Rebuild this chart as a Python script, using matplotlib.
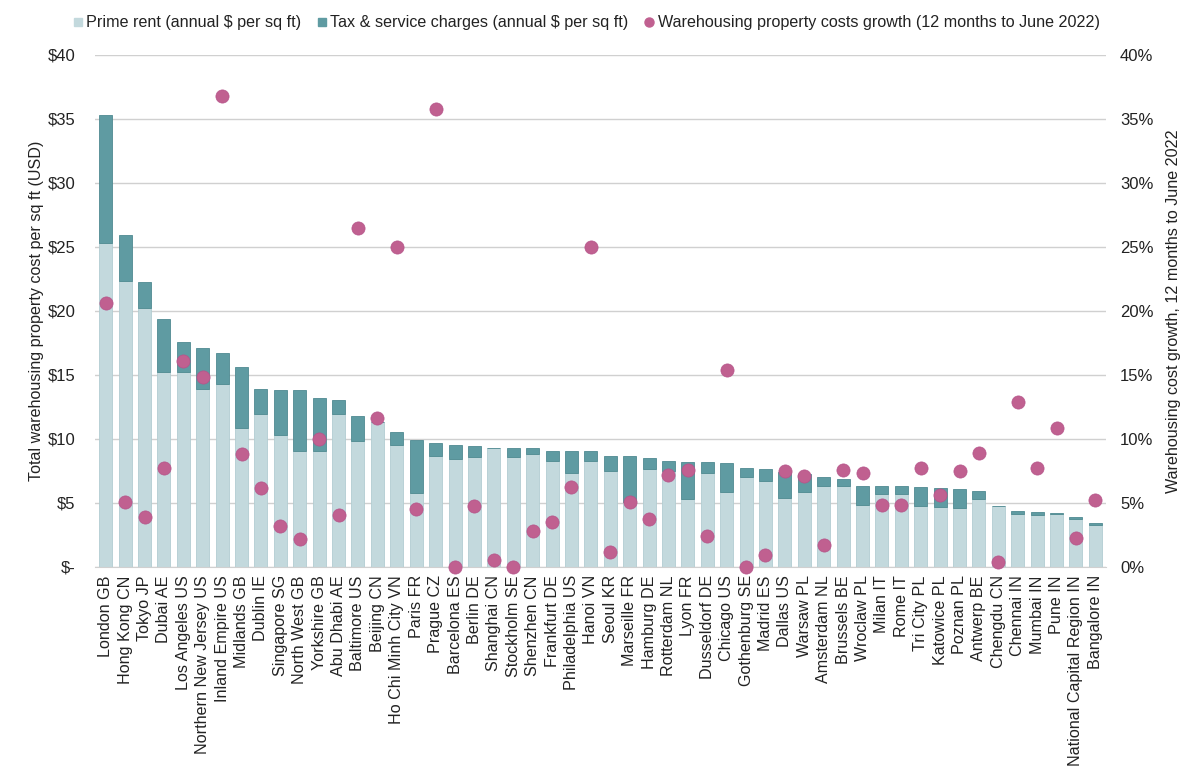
import numpy as np
import matplotlib
matplotlib.use('Agg')
import matplotlib.pyplot as plt
from matplotlib.lines import Line2D

plt.rcParams['font.family'] = ['Liberation Sans', 'DejaVu Sans']

cities = ['London GB', 'Hong Kong CN', 'Tokyo JP', 'Dubai AE', 'Los Angeles US',
          'Northern New Jersey US', 'Inland Empire US', 'Midlands GB', 'Dublin IE',
          'Singapore SG', 'North West GB', 'Yorkshire GB', 'Abu Dhabi AE', 'Baltimore US',
          'Beijing CN', 'Ho Chi Minh City VN', 'Paris FR', 'Prague CZ', 'Barcelona ES',
          'Berlin DE', 'Shanghai CN', 'Stockholm SE', 'Shenzhen CN', 'Frankfurt DE',
          'Philadelphia US', 'Hanoi VN', 'Seoul KR', 'Marseille FR', 'Hamburg DE',
          'Rotterdam NL', 'Lyon FR', 'Dusseldorf DE', 'Chicago US', 'Gothenburg SE',
          'Madrid ES', 'Dallas US', 'Warsaw PL', 'Amsterdam NL', 'Brussels BE',
          'Wroclaw PL', 'Milan IT', 'Rome IT', 'Tri City PL', 'Katowice PL', 'Poznan PL',
          'Antwerp BE', 'Chengdu CN', 'Chennai IN', 'Mumbai IN', 'Pune IN',
          'National Capital Region IN', 'Bangalore IN']

prime_rent = [25.3, 22.3, 20.2, 15.26, 15.26, 13.9, 14.3, 10.83, 11.98, 10.29,
              9.04, 9.04, 11.93, 9.87, 11.35, 9.56, 5.8, 8.7, 8.41, 8.57,
              9.32, 8.62, 8.85, 8.26, 7.37, 8.26, 7.47, 5.05, 7.66, 7.47,
              5.34, 7.32, 5.86, 7.06, 6.69, 5.36, 5.83, 6.3, 6.3, 4.82,
              5.7, 5.7, 4.77, 4.66, 4.58, 5.34, 4.77, 4.17, 4.06, 4.11,
              3.75, 3.28]

total_cost = [35.29, 25.94, 22.24, 19.4, 17.6, 17.1, 16.67, 15.65, 13.93, 13.85,
              13.85, 13.23, 13.02, 11.82, 11.35, 10.5, 9.9, 9.66, 9.56, 9.45,
              9.32, 9.27, 9.27, 9.09, 9.09, 9.09, 8.7, 8.67, 8.49, 8.26,
              8.23, 8.18, 8.1, 7.71, 7.63, 7.45, 7.29, 7.03, 6.875, 6.33,
              6.28, 6.28, 6.25, 6.15, 6.09, 5.89, 4.77, 4.375, 4.32, 4.24,
              3.93, 3.44]

growth_pct = [20.6, 5.05, 3.9, 7.7, 16.1, 14.8, 36.8, 8.8, 6.2, 3.2,
              2.2, 10.0, 4.04, 26.5, 11.6, 25.0, 4.5, 35.75, 0.0, 4.74,
              0.5, 0.0, 2.8, 3.54, 6.25, 25.0, 1.15, 5.03, 3.78, 7.2,
              7.58, 2.42, 15.36, 0.0, 0.89, 7.47, 7.08, 1.68, 7.6, 7.34,
              4.84, 4.84, 7.76, 5.6, 7.5, 8.93, 0.36, 12.86, 7.7, 10.86,
              2.24, 5.2]

tax_charges = np.array(total_cost) - np.array(prime_rent)

c_prime = '#c3d9dd'
c_tax = '#5f9ba2'
c_dot = '#c06090'
c_text = '#222222'

fig = plt.figure(figsize=(12, 7.83), dpi=100)
ax = fig.add_axes([0.0792, 0.276, 0.8425, 0.654])
x = np.arange(len(cities))

ax.bar(x, prime_rent, width=0.67, color=c_prime, edgecolor='#b2cdd2', linewidth=0.6, zorder=2)
ax.bar(x, tax_charges, bottom=prime_rent, width=0.67, color=c_tax,
       edgecolor='#4f8a91', linewidth=0.6, zorder=2)

ax.set_ylim(0, 40)
ax.set_yticks(range(0, 41, 5))
ax.set_yticklabels(['$-'] + ['$%d' % v for v in range(5, 41, 5)])
ax.set_xlim(-0.55, 51.55)
ax.set_xticks(x)
ax.set_xticklabels(cities, rotation=90, fontsize=11.6, color=c_text)
ax.tick_params(axis='x', length=0, pad=6)
ax.tick_params(axis='y', length=0, labelsize=12, colors=c_text, pad=14)
ax.grid(axis='y', color='#d0d0d0', linewidth=1, zorder=0)
ax.set_axisbelow(True)
for s in ['top', 'right', 'left']:
    ax.spines[s].set_visible(False)
ax.spines['bottom'].set_color('#d0d0d0')
ax.set_ylabel('Total warehousing property cost per sq ft (USD)', fontsize=11.6,
              color=c_text, labelpad=3)

ax2 = ax.twinx()
ax2.scatter(x, growth_pct, s=90, color=c_dot, edgecolor='#b5548a', linewidth=0.5,
            zorder=5, clip_on=False)
ax2.set_ylim(0, 40)
ax2.set_yticks(range(0, 41, 5))
ax2.set_yticklabels(['%d%%' % v for v in range(0, 41, 5)])
ax2.tick_params(axis='y', length=0, labelsize=12, colors=c_text, pad=10)
for s in ['top', 'right', 'left', 'bottom']:
    ax2.spines[s].set_visible(False)
ax2.set_ylabel('Warehousing cost growth, 12 months to June 2022', fontsize=11.6,
               color=c_text, labelpad=9)

handles = [
    Line2D([], [], marker='s', linestyle='none', markersize=5.5, color=c_prime),
    Line2D([], [], marker='s', linestyle='none', markersize=5.5, color=c_tax),
    Line2D([], [], marker='o', linestyle='none', markersize=6.5, color=c_dot),
]
labels = ['Prime rent (annual $ per sq ft)', 'Tax & service charges (annual $ per sq ft)',
          'Warehousing property costs growth (12 months to June 2022)']
fig.legend(handles, labels, loc='center', bbox_to_anchor=(0.488, 0.971), ncol=3, frameon=False,
           fontsize=11.6, handletextpad=0.1, columnspacing=0.9, handlelength=0.8,
           borderaxespad=0, labelcolor=c_text)

fig.savefig('out.png', dpi=100)
